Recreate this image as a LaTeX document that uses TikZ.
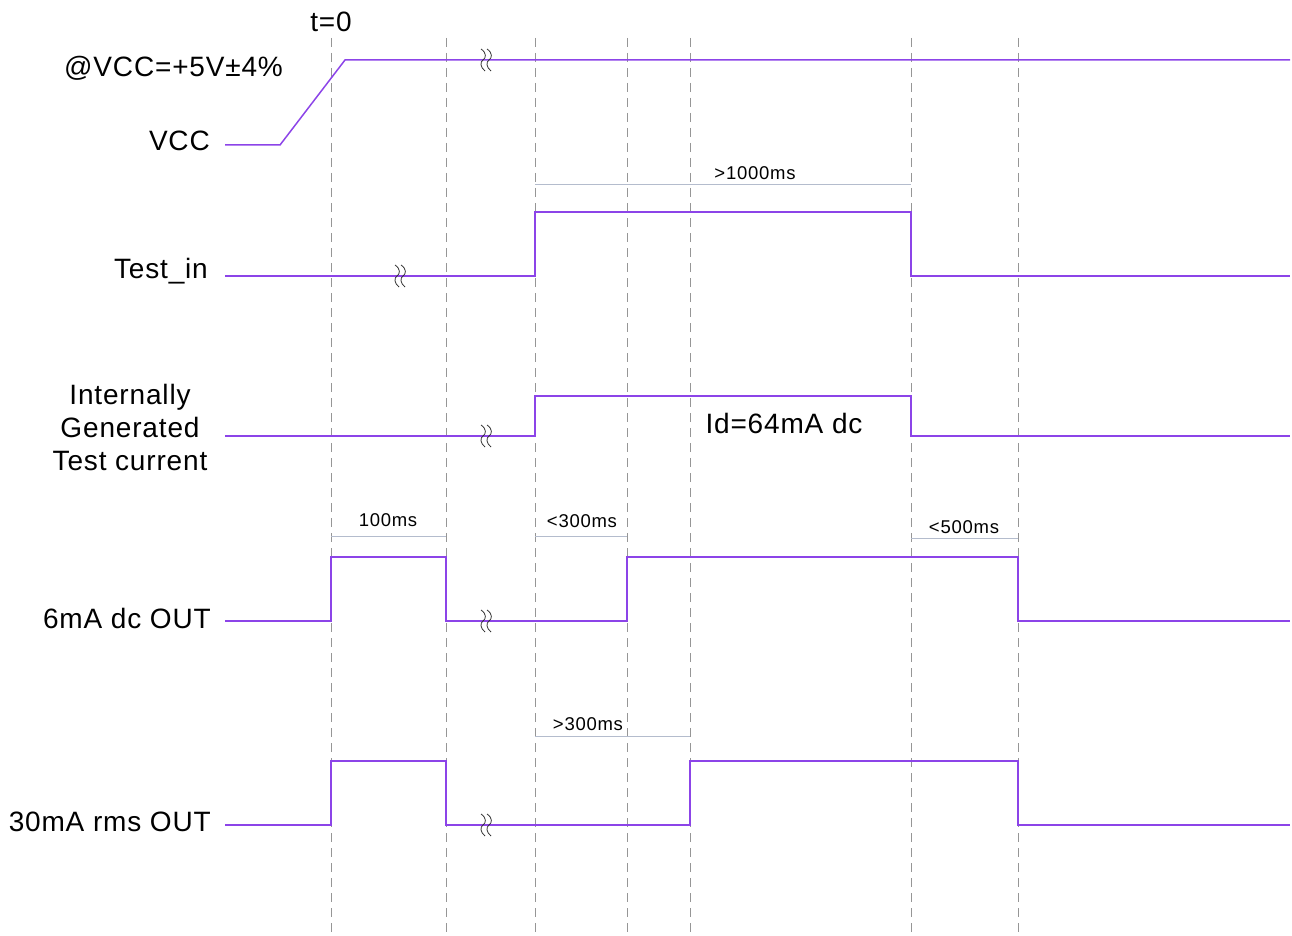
\documentclass[tikz,border=0pt]{standalone}
\usepackage{fontspec}
\setmainfont{Liberation Sans}[LetterSpace=3]
\newfontfamily\dimfont{Liberation Sans}[LetterSpace=4]
\definecolor{sig}{RGB}{140,68,232}
\definecolor{grid}{RGB}{150,150,150}
\definecolor{dim}{RGB}{180,188,205}
\begin{document}
\begin{tikzpicture}[x=1pt,y=-1pt,
  sigline/.style={sig,line width=1.5pt,line join=miter},
  gridline/.style={grid,line width=0.9pt,dash pattern=on 9pt off 6pt},
  dimline/.style={dim,line width=0.9pt},
  lbl/.style={font=\fontsize{28}{33}\selectfont,inner sep=0pt},
  dimlbl/.style={font=\dimfont\fontsize{18.5}{21}\selectfont,inner sep=0pt},
  brk/.pic={\draw[black!80,line width=0.8pt] (-4,-11) .. controls (2,-7) and (1,-2) .. (-2,0) .. controls (-5,2) and (-5,7) .. (0,11)
            (2,-11) .. controls (8,-7) and (7,-2) .. (4,0) .. controls (1,2) and (1,7) .. (6,11);}]
\useasboundingbox (0,0) rectangle (1292,936);
% grid lines
\foreach \x in {331,446,535,627,690,911,1018}{
  \draw[gridline] (\x,38) -- (\x,936);
}
% dimension lines
\draw[dimline] (535,184) -- (911,184);
\node[dimlbl] (d1000) at (755,173) {>1000ms};
\draw[dimline] (331,536) -- (446,536);
\node[dimlbl] (d100) at (388,520) {100ms};
\draw[dimline] (535,536) -- (627,536);
\node[dimlbl] (d300a) at (582,521) {<300ms};
\draw[dimline] (911,538) -- (1018,538);
\node[dimlbl] (d500) at (964,527) {<500ms};
\draw[dimline] (535,736) -- (690,736);
\node[dimlbl] (d300b) at (588,724) {>300ms};
% signals
\draw[sigline] (225,145) -- (280,145) -- (345,60) -- (1290,60);
\draw[sigline] (225,276) -- (535,276) -- (535,212) -- (911,212) -- (911,276) -- (1290,276);
\draw[sigline] (225,436) -- (535,436) -- (535,396) -- (911,396) -- (911,436) -- (1290,436);
\draw[sigline] (225,621) -- (331,621) -- (331,557) -- (446,557) -- (446,621) -- (627,621) -- (627,557) -- (1018,557) -- (1018,621) -- (1290,621);
\draw[sigline] (225,825) -- (331,825) -- (331,761) -- (446,761) -- (446,825) -- (690,825) -- (690,761) -- (1018,761) -- (1018,825) -- (1290,825);
% breaks
\pic at (485,60) {brk};
\pic at (399,276) {brk};
\pic at (485,436) {brk};
\pic at (485,621) {brk};
\pic at (485,825) {brk};
% labels
\node[lbl] (t0) at (331,22) {t=0};
\node[lbl,anchor=west] (vccr) at (64,68) {@VCC=+5V±4\%};
\node[lbl,anchor=east] (vcc) at (210,141) {VCC};
\node[lbl,anchor=east] (tin) at (208,271) {Test\_in};
\node[lbl,align=center] (itc) at (130,427) {Internally\\Generated\\Test current};
\node[lbl] (id) at (784,423) {Id=64mA dc};
\node[lbl,anchor=east] (o6) at (211,618) {6mA dc OUT};
\node[lbl,anchor=east] (o30) at (211,822) {30mA rms OUT};
\end{tikzpicture}
\end{document}
